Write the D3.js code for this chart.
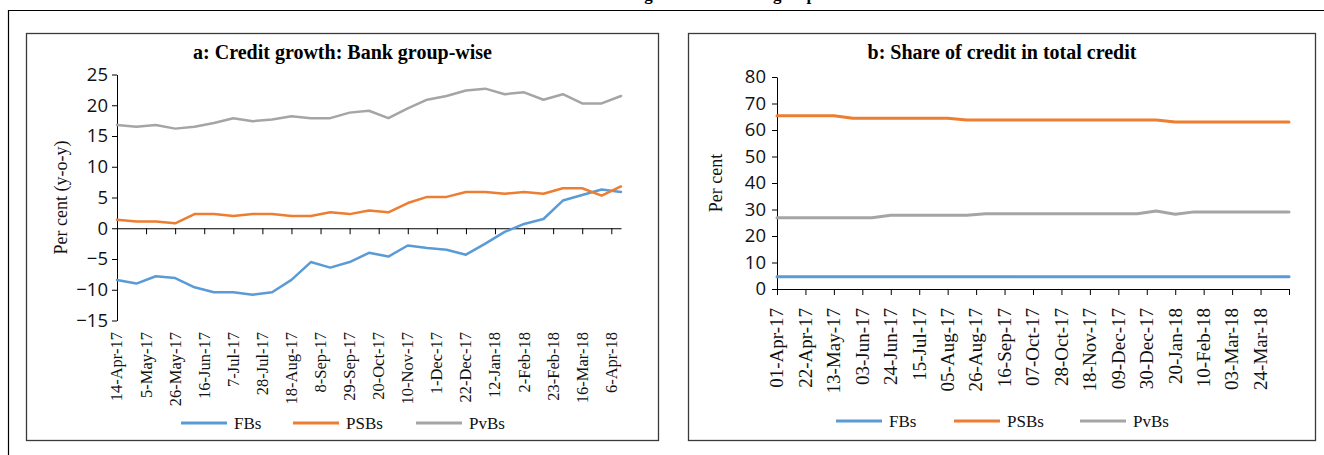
<!DOCTYPE html>
<html><head><meta charset="utf-8">
<script src="https://cdn.jsdelivr.net/npm/d3@7"></script>
<style>body{margin:0;background:#fff} svg{display:block}</style>
</head><body>
<svg id="c" width="1324" height="455"></svg>
<script>
// ---------- Data ----------
const seriesNames = ["FBs", "PSBs", "PvBs"];
const seriesColors = ["#5B9BD5", "#ED7D31", "#A5A5A5"];

// Panel a: Credit growth (y-o-y, per cent), fortnightly
const leftDates = ["14-Apr-17","28-Apr-17","12-May-17","26-May-17","9-Jun-17","23-Jun-17","7-Jul-17","21-Jul-17","4-Aug-17","18-Aug-17","1-Sep-17","15-Sep-17","29-Sep-17","13-Oct-17","27-Oct-17","10-Nov-17","24-Nov-17","8-Dec-17","22-Dec-17","5-Jan-18","19-Jan-18","2-Feb-18","16-Feb-18","2-Mar-18","16-Mar-18","30-Mar-18","13-Apr-18"];
const leftFBs  = [-8.4,-9.0,-7.8,-8.1,-9.6,-10.4,-10.4,-10.8,-10.4,-8.4,-5.5,-6.4,-5.5,-4.0,-4.6,-2.8,-3.2,-3.5,-4.3,-2.5,-0.6,0.7,1.5,4.5,5.4,6.3,5.9];
const leftPSBs = [1.4,1.1,1.1,0.8,2.3,2.3,2.0,2.3,2.3,2.0,2.0,2.6,2.3,2.9,2.6,4.1,5.1,5.1,5.9,5.9,5.6,5.9,5.6,6.5,6.5,5.3,6.8];
const leftPvBs = [16.8,16.5,16.8,16.2,16.5,17.1,17.9,17.4,17.7,18.2,17.9,17.9,18.8,19.1,17.9,19.5,20.9,21.5,22.4,22.7,21.8,22.1,20.9,21.8,20.3,20.3,21.5];
const leftTickLabels = ["14-Apr-17","5-May-17","26-May-17","16-Jun-17","7-Jul-17","28-Jul-17","18-Aug-17","8-Sep-17","29-Sep-17","20-Oct-17","10-Nov-17","1-Dec-17","22-Dec-17","12-Jan-18","2-Feb-18","23-Feb-18","16-Mar-18","6-Apr-18"];
const leftYTicks = [25,20,15,10,5,0,-5,-10,-15];

// Panel b: Share of credit in total credit (per cent), fortnightly
const rightDates = ["01-Apr-17","15-Apr-17","29-Apr-17","13-May-17","27-May-17","10-Jun-17","24-Jun-17","08-Jul-17","22-Jul-17","05-Aug-17","19-Aug-17","02-Sep-17","16-Sep-17","30-Sep-17","14-Oct-17","28-Oct-17","11-Nov-17","25-Nov-17","09-Dec-17","23-Dec-17","06-Jan-18","20-Jan-18","03-Feb-18","17-Feb-18","03-Mar-18","17-Mar-18","31-Mar-18","14-Apr-18"];
const rightFBs  = [4.6,4.6,4.6,4.6,4.6,4.6,4.6,4.6,4.6,4.6,4.6,4.6,4.6,4.6,4.6,4.6,4.6,4.6,4.6,4.6,4.6,4.6,4.6,4.6,4.6,4.6,4.6,4.6];
const rightPSBs = [65.4,65.4,65.4,65.4,64.4,64.4,64.4,64.4,64.4,64.4,63.8,63.8,63.8,63.8,63.8,63.8,63.8,63.8,63.8,63.8,63.8,63.0,63.0,63.0,63.0,63.0,63.0,63.0];
const rightPvBs = [26.9,26.9,26.9,26.9,26.9,26.9,27.8,27.8,27.8,27.8,27.8,28.4,28.4,28.4,28.4,28.4,28.4,28.4,28.4,28.4,29.4,28.2,29.1,29.1,29.1,29.1,29.1,29.1];
const rightTickLabels = ["01-Apr-17","22-Apr-17","13-May-17","03-Jun-17","24-Jun-17","15-Jul-17","05-Aug-17","26-Aug-17","16-Sep-17","07-Oct-17","28-Oct-17","18-Nov-17","09-Dec-17","30-Dec-17","20-Jan-18","10-Feb-18","03-Mar-18","24-Mar-18"];
const rightYTicks = [0,10,20,30,40,50,60,70,80];

// ---------- Drawing ----------
const parse = d3.timeParse("%d-%b-%y");
const svg = d3.select("#c");
const SERIF = "'Liberation Serif', 'Times New Roman', serif";
const SANS = "'Open Sans', 'Noto Sans', sans-serif";
const frame = "#3a3a3a";

// page heading (cut off at the top edge, as in the source) and outer frame
svg.append("text").attr("x", 527).attr("y", -0.5)
  .attr("font-family", SERIF).attr("font-weight", "bold").attr("font-size", 17)
  .text("Chart 2: Credit growth and bank group share");
svg.append("line").attr("x1", 8).attr("x2", 1324).attr("y1", 10.5).attr("y2", 10.5).attr("stroke", "#000").attr("stroke-width", 1.2);
svg.append("line").attr("x1", 8.5).attr("x2", 8.5).attr("y1", 10).attr("y2", 455).attr("stroke", "#000").attr("stroke-width", 1.2);

function panel(cfg) {
  const g = svg.append("g");
  g.append("rect").attr("x", cfg.box[0]).attr("y", cfg.box[1]).attr("width", cfg.box[2]).attr("height", cfg.box[3])
    .attr("fill", "none").attr("stroke", frame).attr("stroke-width", 1.3);
  g.append("text").attr("x", cfg.box[0] + cfg.box[2] / 2).attr("y", cfg.titleY)
    .attr("text-anchor", "middle").attr("font-family", SERIF).attr("font-weight", "bold")
    .attr("font-size", cfg.titleSize).text(cfg.title);

  const dates = cfg.dates.map(parse);
  const x = d3.scaleTime().domain([dates[0], dates[dates.length - 1]]).range(cfg.xRange);
  const y = d3.scaleLinear().domain(cfg.yDomain).range(cfg.yRange);

  // y axis
  const ya = g.append("g").attr("transform", `translate(${cfg.xRange[0]},0)`)
    .call(d3.axisLeft(y).tickValues(cfg.yTicks).tickSize(5).tickPadding(cfg.yPad).tickSizeOuter(0));
  ya.selectAll("text").attr("font-family", SANS).attr("font-size", 18.5).attr("fill", "#111");
  ya.selectAll("line,path").attr("stroke", "#000");

  // x axis at y = 0
  const tickDates = cfg.tickLabels.map(parse).concat(cfg.extraEndTick ? [dates[dates.length - 1]] : []);
  const xa = g.append("g").attr("transform", `translate(0,${y(0)})`)
    .call(d3.axisBottom(x).tickValues(tickDates).tickSize(6).tickFormat("").tickSizeOuter(0));
  xa.selectAll("line,path").attr("stroke", "#000");

  // rotated category labels
  g.append("g").selectAll("text").data(cfg.tickLabels).join("text")
    .attr("transform", d => `translate(${x(parse(d))},${cfg.labelTop}) rotate(-90)`)
    .attr("text-anchor", "end").attr("dy", "0.33em")
    .attr("font-family", SERIF).attr("font-size", cfg.labelSize).attr("fill", "#111")
    .text(d => d);

  // y title
  const ymid = (cfg.yRange[0] + cfg.yRange[1]) / 2;
  g.append("text").attr("transform", `translate(${cfg.yTitleX},${ymid}) rotate(-90)`)
    .attr("text-anchor", "middle").attr("font-family", SERIF).attr("font-size", 18).attr("fill", "#111")
    .text(cfg.yTitle);

  // lines
  const line = d3.line().x((d, i) => x(dates[i])).y(d => y(d));
  cfg.series.forEach((vals, k) => {
    g.append("path").datum(vals).attr("d", line).attr("fill", "none")
      .attr("stroke", seriesColors[k]).attr("stroke-width", cfg.lineW)
      .attr("stroke-linejoin", "round").attr("stroke-linecap", "round");
  });

  // legend
  seriesNames.forEach((name, k) => {
    const lx = cfg.legendX[k];
    g.append("line").attr("x1", lx).attr("x2", lx + 46).attr("y1", cfg.legendY).attr("y2", cfg.legendY)
      .attr("stroke", seriesColors[k]).attr("stroke-width", 3);
    g.append("text").attr("x", lx + 53).attr("y", cfg.legendY).attr("dy", "0.35em")
      .attr("font-family", SERIF).attr("font-size", 17).attr("fill", "#111").text(name);
  });
}

panel({
  box: [26.5, 33.5, 632, 407], title: "a: Credit growth: Bank group-wise", titleY: 59, titleSize: 20,
  dates: leftDates, series: [leftFBs, leftPSBs, leftPvBs], tickLabels: leftTickLabels, extraEndTick: false,
  xRange: [117, 621], yDomain: [-15, 25], yRange: [320.5, 74.5], yTicks: leftYTicks, yPad: 4,
  labelTop: 332, labelSize: 16.5, yTitle: "Per cent (y-o-y)", yTitleX: 67, lineW: 2.5,
  legendX: [181, 293, 416], legendY: 423
});

panel({
  box: [688.5, 33.5, 627, 407], title: "b: Share of credit in total credit", titleY: 59, titleSize: 20,
  dates: rightDates, series: [rightFBs, rightPSBs, rightPvBs], tickLabels: rightTickLabels, extraEndTick: true,
  xRange: [777, 1289], yDomain: [0, 80], yRange: [289, 77], yTicks: rightYTicks, yPad: 6,
  labelTop: 308, labelSize: 19, yTitle: "Per cent", yTitleX: 722, lineW: 3,
  legendX: [836, 954, 1080], legendY: 421
});
</script>
</body></html>
